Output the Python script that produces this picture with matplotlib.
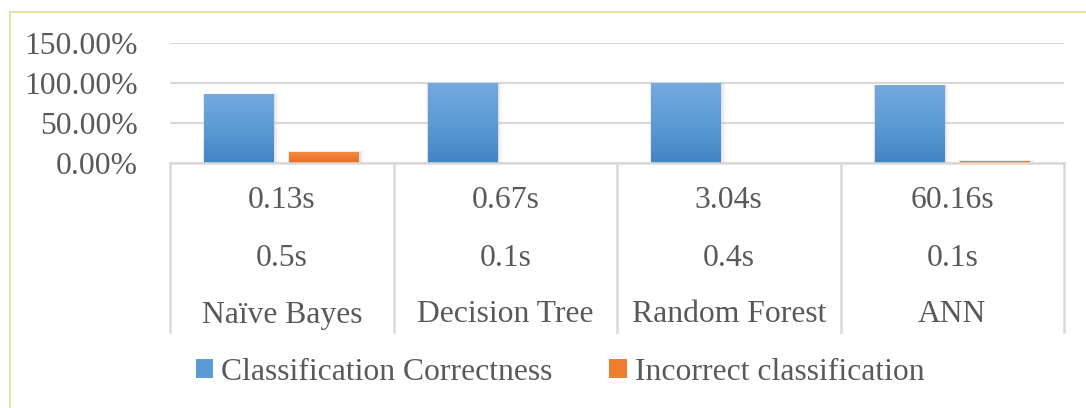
import numpy as np
import matplotlib
matplotlib.use("Agg")
import matplotlib.pyplot as plt
from matplotlib.patches import Rectangle, Patch
from matplotlib.colors import LinearSegmentedColormap
from matplotlib.transforms import blended_transform_factory

# ---- data ----
categories = ["Naïve Bayes", "Decision Tree", "Random Forest", "ANN"]
row1_labels = ["0.13s", "0.67s", "3.04s", "60.16s"]
row2_labels = ["0.5s", "0.1s", "0.4s", "0.1s"]
correct = [0.862, 1.000, 1.000, 0.974]
incorrect = [0.138, 0.000, 0.000, 0.026]
series_names = ["Classification Correctness", "Incorrect classification"]
yticks = [0.0, 0.5, 1.0, 1.5]

plt.rcParams['font.family'] = ['Liberation Serif', 'DejaVu Serif']
TXT = '#595959'
GRID = '#d9d9d9'
FS = 22.8

W, H = 1086, 408
fig = plt.figure(figsize=(W / 100, H / 100), dpi=100)
ax = fig.add_axes([170 / W, 1 - 162.7 / H, (1064 - 170) / W, (162.7 - 43.3) / H])

blue_cmap = LinearSegmentedColormap.from_list('b', ['#4384c5', '#5b9bd5', '#74aadd'])
orange_cmap = LinearSegmentedColormap.from_list('o', ['#e96f22', '#ed7d31', '#f48a40'])

x = np.arange(len(categories))
bw = 0.313
off = 0.191

def grad_bars(xs, vals, cmap, label):
    bars = ax.bar(xs, vals, bw, color='none', label=label, zorder=3)
    grad = np.linspace(0, 1, 256).reshape(-1, 1)
    for b in bars:
        h = b.get_height()
        if h <= 0:
            continue
        x0 = b.get_x()
        # soft shadow
        for k, a in [(0.02, 0.10), (0.012, 0.18), (0.006, 0.30)]:
            ax.add_patch(Rectangle((x0 - k * 0.4, -0.004), bw + k * 1.4, h + k * 0.6,
                                   facecolor='#bfbfbf', edgecolor='none', alpha=a,
                                   zorder=2, clip_on=False))
        im = ax.imshow(grad, cmap=cmap, aspect='auto', origin='lower',
                       extent=(x0, x0 + bw, 0, h), zorder=3, interpolation='bilinear')
        im.set_clip_path(b)
    return bars

grad_bars(x - off, correct, blue_cmap, series_names[0])
grad_bars(x + off, incorrect, orange_cmap, series_names[1])

ax.set_xlim(-0.5, len(categories) - 0.5)
ax.set_ylim(0, 1.5)
ax.set_yticks(yticks)
ax.set_yticklabels([f"{v * 100:.2f}%" for v in yticks], fontsize=FS, color=TXT)
ax.tick_params(axis='y', length=0, pad=23)
ax.set_xticks([])
for s in ax.spines.values():
    s.set_visible(False)
ax.grid(axis='y', color=GRID, linewidth=1.5, zorder=0)
ax.set_axisbelow(True)

# multi-level category table
tr = blended_transform_factory(ax.transData, ax.transAxes)
axh = 162.7 - 43.3
def yfrac(py):
    return -(py - 162.7) / axh

ax.plot([-0.5, len(categories) - 0.5], [0, 0], transform=tr, color=GRID, lw=1.8,
        clip_on=False, zorder=4)
for b in np.arange(len(categories) + 1) - 0.5:
    ax.plot([b, b], [0, yfrac(332)], transform=tr, color=GRID, lw=1.8, clip_on=False)
for i in range(len(categories)):
    ax.text(i, yfrac(201), row1_labels[i], transform=tr, ha='center', va='center',
            fontsize=FS, color=TXT)
    ax.text(i, yfrac(258), row2_labels[i], transform=tr, ha='center', va='center',
            fontsize=FS, color=TXT)
    ax.text(i, yfrac(315), categories[i], transform=tr, ha='center', va='center',
            fontsize=FS, color=TXT)

# legend
handles = [Patch(facecolor='#5b9bd5', edgecolor='none'),
           Patch(facecolor='#ed7d31', edgecolor='none')]
fig.legend(handles, series_names, loc='center', bbox_to_anchor=(560 / W, 1 - 372 / H),
           ncol=2, frameon=False, fontsize=FS, labelcolor=TXT,
           handlelength=0.55, handleheight=0.55, handletextpad=0.25,
           columnspacing=1.8, borderpad=0)

# outer chart border (top and left visible)
fig.add_artist(plt.Line2D([10 / W, 10 / W], [0, 1 - 12 / H], transform=fig.transFigure,
                          color='#e2e2a6', lw=1.5))
fig.add_artist(plt.Line2D([10 / W, 1], [1 - 12 / H, 1 - 12 / H], transform=fig.transFigure,
                          color='#e2e2a6', lw=1.5))

fig.savefig('out.png', dpi=100)
